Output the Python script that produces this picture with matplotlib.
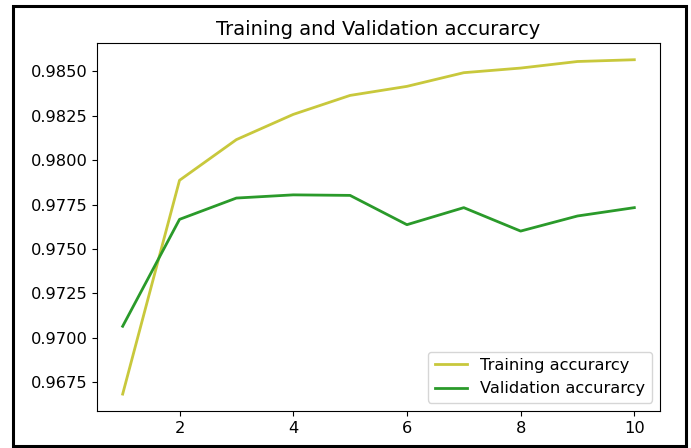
import matplotlib
matplotlib.use('Agg')
import matplotlib.pyplot as plt
from matplotlib.patches import Rectangle

# 数据
epochs = [1, 2, 3, 4, 5, 6, 7, 8, 9, 10]
train_acc = [0.96683, 0.97887, 0.98116, 0.98258, 0.98365, 0.98416, 0.98493, 0.98519, 0.98556, 0.98566]
val_acc = [0.97065, 0.97667, 0.97787, 0.97805, 0.97802, 0.97637, 0.97733, 0.97601, 0.97686, 0.97733]

fig = plt.figure(figsize=(6.91, 4.48), dpi=100)
ax = fig.add_axes([0.1405, 0.083, 0.8145, 0.821])

ax.plot(epochs, train_acc, color='#c8c83c', lw=2, label='Training accurarcy')
ax.plot(epochs, val_acc, color='#2a9a2a', lw=2, label='Validation accurarcy')

ax.set_title('Training and Validation accurarcy', fontsize=14)
ax.tick_params(labelsize=11.7)
ax.yaxis.set_major_formatter(plt.FormatStrFormatter('%.4f'))
ax.legend(loc='lower right', fontsize=11.7)

# 外框
fig.patches.append(Rectangle((0.0195, 0.0035), 0.9733, 0.983, transform=fig.transFigure,
                             fill=False, edgecolor='black', lw=2.2))

fig.savefig('out.png', dpi=100)
